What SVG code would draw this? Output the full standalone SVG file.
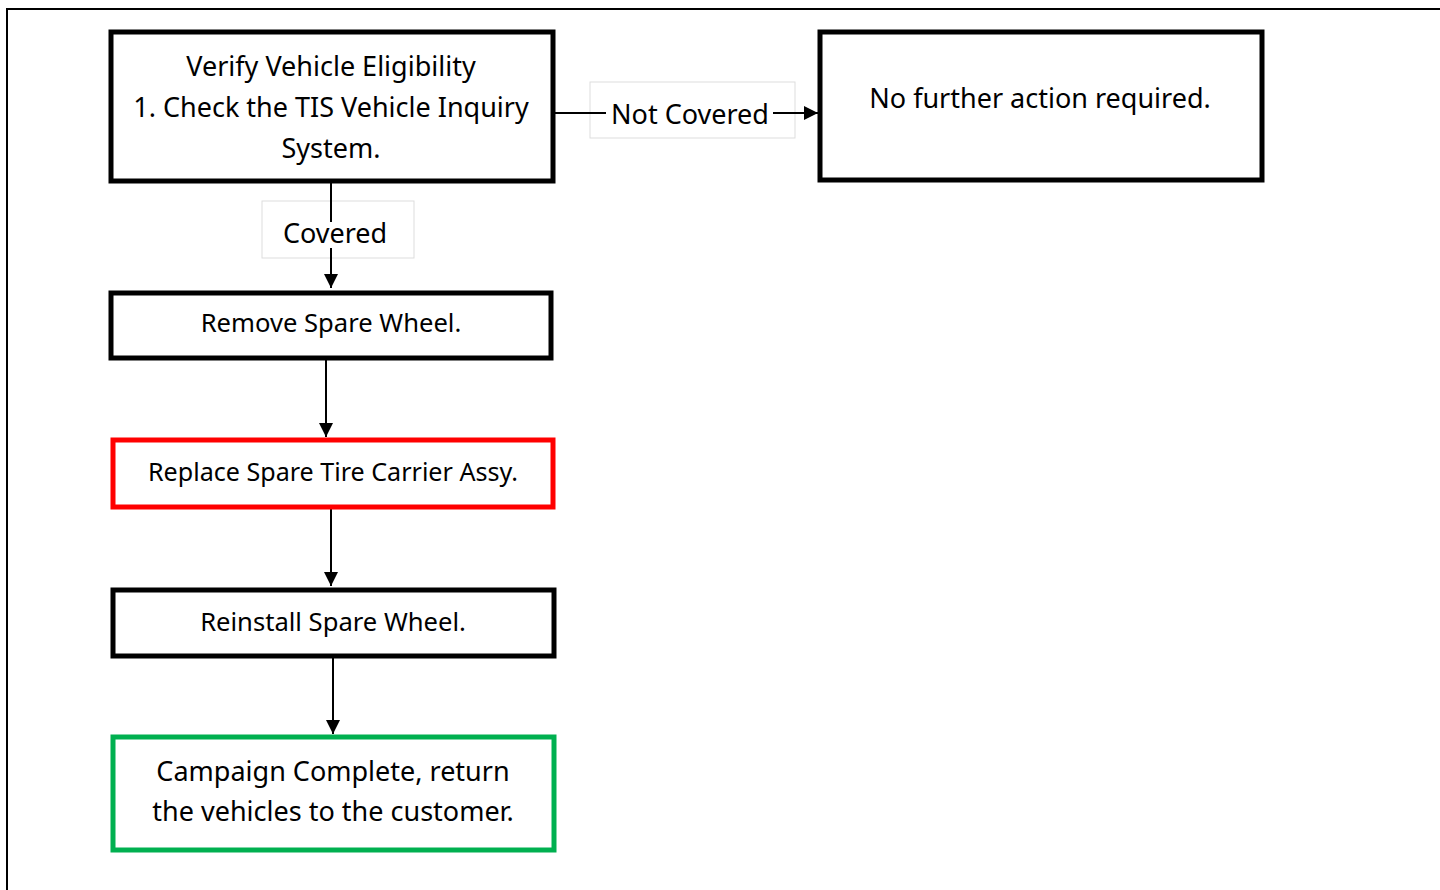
<svg xmlns="http://www.w3.org/2000/svg" width="1440" height="890" viewBox="0 0 1440 890">
  <style>
    .box { fill: #ffffff; stroke: #000000; stroke-width: 5; }
    .red { stroke: #ff0000; }
    .green { stroke: #00b050; }
    .lbl { fill: #ffffff; stroke: #dddddd; stroke-width: 1; }
    .bg { fill: #ffffff; }
    .t { font-family: "Noto Sans", "Open Sans", sans-serif; font-size: 27px; fill: #000000; text-anchor: middle; }
    .s { font-size: 25.6px; }
    .edge { stroke: #000000; stroke-width: 2; fill: none; }
  </style>
  <defs>
    <marker id="arrow" viewBox="0 0 10 10" refX="10" refY="5" markerWidth="14" markerHeight="14" markerUnits="userSpaceOnUse" orient="auto">
      <path d="M0,0 L10,5 L0,10 z" fill="#000000"/>
    </marker>
  </defs>
  <rect width="1440" height="890" fill="#ffffff"/>
  <!-- page frame -->
  <path d="M7,890 V9 H1440" fill="none" stroke="#000000" stroke-width="2"/>

  <g id="connectors">
    <g id="edge-not-covered">
      <rect class="lbl" x="590" y="82" width="205" height="56"/>
      <path class="edge" d="M555,113 H818" marker-end="url(#arrow)"/>
      <rect class="bg" x="606" y="98" width="167" height="32"/>
      <text class="t" x="690" y="124">Not Covered</text>
    </g>
    <g id="edge-covered">
      <rect class="lbl" x="262" y="201" width="152" height="57"/>
      <path class="edge" d="M331,182 V288" marker-end="url(#arrow)"/>
      <rect class="bg" x="279" y="222" width="112" height="26"/>
      <text class="t" x="335" y="243">Covered</text>
    </g>
    <path class="edge" d="M326,360 V437" marker-end="url(#arrow)"/>
    <path class="edge" d="M331,508 V586" marker-end="url(#arrow)"/>
    <path class="edge" d="M333,657 V734" marker-end="url(#arrow)"/>
  </g>

  <g id="verify">
    <rect class="box" x="111" y="32" width="442" height="149"/>
    <text class="t" x="331" y="76">Verify Vehicle Eligibility</text>
    <text class="t" x="331" y="117">1. Check the TIS Vehicle Inquiry</text>
    <text class="t" x="331" y="158">System.</text>
  </g>
  <g id="no-action">
    <rect class="box" x="820" y="32" width="442" height="148"/>
    <text class="t" x="1040" y="108">No further action required.</text>
  </g>
  <g id="remove">
    <rect class="box" x="111" y="293" width="440" height="65"/>
    <text class="t s" x="331" y="332">Remove Spare Wheel.</text>
  </g>
  <g id="replace">
    <rect class="box red" x="113" y="440" width="440" height="67"/>
    <text class="t s" x="333" y="481" textLength="370" lengthAdjust="spacingAndGlyphs">Replace Spare Tire Carrier Assy.</text>
  </g>
  <g id="reinstall">
    <rect class="box" x="113" y="590" width="441" height="66"/>
    <text class="t s" x="333" y="631">Reinstall Spare Wheel.</text>
  </g>
  <g id="complete">
    <rect class="box green" x="113" y="737" width="441" height="113"/>
    <text class="t" x="333" y="781">Campaign Complete, return</text>
    <text class="t" x="333" y="821">the vehicles to the customer.</text>
  </g>
</svg>
